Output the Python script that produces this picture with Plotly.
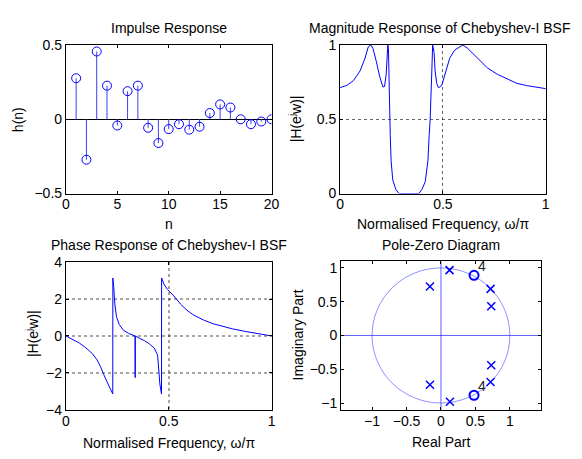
import plotly.graph_objects as go

# impulse response h(n), n = 1..20
n = list(range(1, 21))
h = [0.276, -0.272, 0.456, 0.226, -0.042, 0.189, 0.226, -0.057, -0.16, -0.066,
     -0.033, -0.07, -0.05, 0.042, 0.10, 0.079, 0.0, -0.033, -0.015, 0.0]

# magnitude response (normalised frequency, |H|)
mag_w = [0, 0.033, 0.065, 0.097, 0.121, 0.137, 0.149, 0.16, 0.176, 0.192, 0.208, 0.216,
         0.224, 0.229, 0.232, 0.235, 0.24, 0.244, 0.248, 0.256, 0.271, 0.287, 0.383, 0.398,
         0.414, 0.427, 0.433, 0.438, 0.446, 0.45, 0.457, 0.462, 0.47, 0.478, 0.494, 0.51,
         0.533, 0.557, 0.597, 0.621, 0.668, 0.716, 0.764, 0.811, 0.859, 0.906, 0.954, 1.0]
mag_h = [0.713, 0.728, 0.76, 0.825, 0.91, 0.987, 1.0, 0.976, 0.89, 0.79, 0.717, 0.72,
         0.80, 0.91, 1.0, 0.976, 0.50, 0.39, 0.22, 0.093, 0.028, 0.0, 0.0, 0.028,
         0.08, 0.22, 0.39, 0.50, 0.825, 1.0, 0.95, 0.825, 0.74, 0.712, 0.727, 0.803,
         0.911, 0.965, 1.0, 0.976, 0.911, 0.846, 0.803, 0.771, 0.742, 0.727, 0.716, 0.706]

# phase response
ph_w = [0, 0.033, 0.065, 0.097, 0.129, 0.152, 0.168, 0.184, 0.2, 0.216, 0.228, 0.2285,
        0.233, 0.238, 0.246, 0.26, 0.28, 0.305, 0.3365, 0.337, 0.3375, 0.36, 0.383, 0.406,
        0.43, 0.446, 0.451, 0.457, 0.465, 0.4655, 0.478, 0.494, 0.525, 0.557, 0.589, 0.621,
        0.668, 0.716, 0.764, 0.811, 0.875, 0.938, 1.0]
ph = [0, -0.21, -0.38, -0.64, -0.96, -1.30, -1.65, -2.09, -2.52, -2.87, -3.14, 3.14,
      2.61, 1.74, 1.04, 0.61, 0.31, 0.14, 0.0, -2.26, 0.0, -0.14, -0.26, -0.43,
      -0.66, -1.04, -1.91, -2.6, -3.14, 3.14, 2.78, 2.52, 2.17, 1.73, 1.39, 1.13,
      0.87, 0.66, 0.52, 0.38, 0.24, 0.10, 0.0]

# poles and zeros
pole_re = [0.124, -0.16, 0.72, 0.73, 0.73, 0.72, -0.16, 0.13]
pole_im = [0.967, 0.724, 0.69, 0.433, -0.44, -0.69, -0.73, -0.98]
zero_re = [0.48, 0.48]
zero_im = [0.89, -0.885]
zero_mult = ["4", "4"]

W, H = 582, 459
OFF = 8  # page body margin, positions below are in page pixels
BLUE = "#0000ff"
FONT = "Liberation Sans, Arial, sans-serif"


def fx(p):
    return (p - OFF) / W


def fy(p):
    return 1 - (p - OFF) / H


fig = go.Figure()

# stems
sx, sy = [], []
for k, v in zip(n, h):
    sx += [k, k, None]
    sy += [0, v, None]
fig.add_scatter(x=sx, y=sy, mode="lines", line=dict(color="#3f3fff", width=1),
                xaxis="x", yaxis="y", hoverinfo="skip")
fig.add_scatter(x=n, y=h, mode="markers", xaxis="x", yaxis="y",
                marker=dict(symbol="circle-open", size=9, color=BLUE, line=dict(width=1)))

fig.add_scatter(x=mag_w, y=mag_h, mode="lines", line=dict(color=BLUE, width=1),
                xaxis="x2", yaxis="y2", cliponaxis=False)
fig.add_scatter(x=ph_w, y=ph, mode="lines", line=dict(color=BLUE, width=1),
                xaxis="x3", yaxis="y3")

# unit circle and axes lines for z-plane
fig.add_shape(type="circle", xref="x4", yref="y4", x0=-1, y0=-1, x1=1, y1=1,
              line=dict(color="rgba(70,70,255,0.6)", width=1), layer="below")
fig.add_shape(type="line", xref="x4", yref="y4", x0=-1.45, x1=1.45, y0=0, y1=0,
              line=dict(color="rgba(40,40,255,0.75)", width=1), layer="below")
fig.add_shape(type="line", xref="x4", yref="y4", x0=0, x1=0, y0=-1.1, y1=1.1,
              line=dict(color="rgba(40,40,255,0.75)", width=1), layer="below")

fig.add_scatter(x=pole_re, y=pole_im, mode="markers", xaxis="x4", yaxis="y4",
                marker=dict(symbol="x-thin-open", size=8, color=BLUE, line=dict(width=1.5, color=BLUE)))
fig.add_scatter(x=zero_re, y=zero_im, mode="markers", xaxis="x4", yaxis="y4",
                marker=dict(symbol="circle-open", size=9, color=BLUE, line=dict(width=2)))
for zr, zi, m in zip(zero_re, zero_im, zero_mult):
    fig.add_annotation(x=zr, y=zi, xref="x4", yref="y4", text=m, showarrow=False,
                       xshift=8, yshift=9, font=dict(size=14, color="#222222", family=FONT))

tickfont = dict(size=14, color="black", family=FONT)
base = dict(showline=True, linecolor="black", linewidth=1, mirror="ticks",
            ticks="inside", ticklen=3, tickcolor="black", tickfont=tickfont,
            zeroline=False, showgrid=False, fixedrange=True)
xb = dict(base, ticklabelstandoff=-2)
grid = dict(showgrid=True, gridcolor="rgba(0,0,0,0.6)", griddash="dot", gridwidth=1)
grid3 = dict(showgrid=True, gridcolor="rgba(0,0,0,0.35)", griddash="dot", gridwidth=1.5)

x_left = [fx(63), fx(273)]
x_right = [fx(343), fx(553)]
y_top = [fy(192), fy(38)]
y_bot = [fy(416), fy(263)]

fig.update_layout(
    width=W, height=H, margin=dict(l=0, r=0, t=0, b=0),
    paper_bgcolor="white", plot_bgcolor="white", showlegend=False,
    font=dict(family=FONT, color="black"),
    xaxis=dict(xb, domain=x_left, anchor="y", range=[0, 20], tickvals=[0, 5, 10, 15, 20]),
    yaxis=dict(base, domain=y_top, anchor="x", range=[-0.5, 0.5], tickvals=[-0.5, 0, 0.5],
               zeroline=True, zerolinecolor="black", zerolinewidth=1),
    xaxis2=dict(xb, **grid, domain=x_right, anchor="y2", range=[0, 1], tickvals=[0, 0.5, 1]),
    yaxis2=dict(base, **grid, domain=y_top, anchor="x2", range=[0, 1], tickvals=[0, 0.5, 1]),
    xaxis3=dict(xb, **grid3, domain=x_left, anchor="y3", range=[0, 1], tickvals=[0, 0.5, 1]),
    yaxis3=dict(base, **grid3, domain=y_bot, anchor="x3", range=[-4, 4], tickvals=[-4, -2, 0, 2, 4]),
    xaxis4=dict(xb, domain=[fx(344), fx(548)], anchor="y4", range=[-1.45, 1.45],
                tickvals=[-1, -0.5, 0, 0.5, 1]),
    yaxis4=dict(base, domain=[fy(416), fy(262)], anchor="x4", range=[-1.1, 1.1],
                tickvals=[-1, -0.5, 0, 0.5, 1]),
)

labels = [
    ("Impulse Response", 168, 20, 0),
    ("Magnitude Response of Chebyshev-I BSF", 445, 20, 0),
    ("Phase Response of Chebyshev-I BSF", 168, 245, 0),
    ("Pole-Zero Diagram", 446, 245, 0),
    ("n", 168, 224, 0),
    ("Normalised Frequency, ω/π", 448, 224, 0),
    ("Normalised Frequency, ω/π", 168, 450, 0),
    ("Real Part", 446, 449, 0),
    ("h(n)", 14, 115, -90),
    ("|H(e<sup>j</sup>w)|", 297, 115, -90),
    ("|H(e<sup>j</sup>w)|", 28, 337, -90),
    ("Imaginary Part", 301, 338, -90),
]
for txt, x, y, ang in labels:
    fig.add_annotation(text=txt, x=fx(x), y=fy(y), xref="paper", yref="paper",
                       xanchor="center", yanchor="middle", showarrow=False, textangle=ang,
                       font=dict(size=14, color="black", family=FONT))

fig.write_html("out.html")
